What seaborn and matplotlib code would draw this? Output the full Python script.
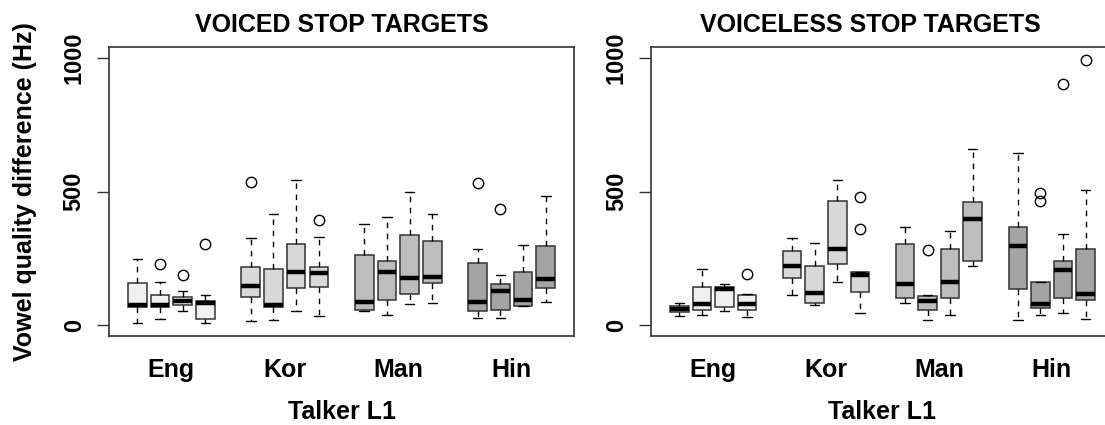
import matplotlib
matplotlib.use("Agg")
import matplotlib.pyplot as plt
import seaborn as sns

sns.set_style("white")
plt.rcParams['font.family'] = ['Liberation Sans', 'DejaVu Sans']
plt.rcParams['font.weight'] = 'bold'
plt.rcParams['text.color'] = 'black'
plt.rcParams['axes.labelcolor'] = 'black'
plt.rcParams['xtick.color'] = 'black'
plt.rcParams['ytick.color'] = 'black'

# Talker L1 groups, four talkers (boxes) each
groups = ['Eng', 'Kor', 'Man', 'Hin']
fills = ['#efefef', '#d8d8d8', '#bdbdbd', '#a4a4a4']

# Voiced stop targets (Hz): box stats
voiced_lo = [9, 25, 55, 9, 15, 20, 55, 35, 54, 40, 80, 84, 26, 26, 71, 88]
voiced_q1 = [67, 67, 77, 24, 104, 67, 138, 142, 57, 93, 117, 157, 52, 57, 73, 138]
voiced_med = [76, 76, 92, 85, 148, 76, 198, 194, 88, 198, 178, 182, 88, 129, 96, 173]
voiced_q3 = [158, 113, 104, 90, 218, 211, 302, 218, 261, 242, 336, 316, 233, 153, 198, 296]
voiced_hi = [246, 162, 128, 113, 327, 417, 543, 330, 380, 404, 499, 417, 286, 187, 301, 483]
voiced_out = [[], [228], [188], [302], [535], [], [], [395],
              [], [], [], [], [530], [435], [], []]

# Voiceless stop targets (Hz)
voiceless_lo = [34, 40, 55, 30, 113, 75, 163, 46, 84, 19, 39, 223, 20, 39, 45, 25]
voiceless_q1 = [48, 59, 69, 59, 177, 84, 228, 123, 103, 59, 103, 242, 137, 63, 102, 93]
voiceless_med = [62, 80, 136, 80, 222, 121, 286, 189, 154, 92, 163, 397, 297, 79, 208, 118]
voiceless_q3 = [73, 143, 143, 113, 277, 223, 466, 200, 302, 108, 286, 460, 366, 163, 241, 286]
voiceless_hi = [84, 211, 154, 118, 326, 307, 543, 200, 369, 114, 354, 659, 643, 163, 343, 504]
voiceless_out = [[], [], [], [192], [], [], [], [361, 481],
                 [], [282], [], [], [], [464, 494], [901], [990]]

edge = '#333333'


def draw_panel(ax, lo, q1, med, q3, hi, out, title, title_x=0.5):
    stats = []
    for i in range(len(med)):
        stats.append(dict(whislo=lo[i], q1=q1[i], med=med[i], q3=q3[i],
                          whishi=hi[i], fliers=out[i]))
    pos = [g * 5 + k + 1 for g in range(len(groups)) for k in range(4)]
    bp = ax.bxp(stats, positions=pos, widths=0.82, capwidths=0.42,
                patch_artist=True, showfliers=True,
                boxprops=dict(edgecolor=edge, linewidth=1.1),
                medianprops=dict(color='black', linewidth=3.2, solid_capstyle='butt'),
                whiskerprops=dict(color='black', linewidth=1, linestyle=(0, (4, 4))),
                capprops=dict(color='black', linewidth=1),
                flierprops=dict(marker='o', markerfacecolor='none', markeredgecolor='black',
                                markersize=7.5, markeredgewidth=1))
    for i, patch in enumerate(bp['boxes']):
        patch.set_facecolor(fills[i // 4])

    ax.set_xlim(-0.26, 20.26)
    ax.set_ylim(-40, 1040)
    ax.set_xticks([2.5, 7.5, 12.5, 17.5], groups)
    ax.set_yticks([0, 500, 1000])
    ax.tick_params(axis='x', length=0, pad=16, labelsize=18)
    ax.tick_params(axis='y', length=8.6, width=1, color=edge, pad=8, labelsize=17, left=True)
    plt.setp(ax.get_yticklabels(), rotation=90, va='center')
    for s in ax.spines.values():
        s.set_color(edge)
        s.set_linewidth(1.2)
    ax.set_title(title, fontsize=18, fontweight='bold', pad=11, x=title_x)
    ax.set_xlabel('Talker L1', fontsize=18, fontweight='bold')
    ax.xaxis.set_label_coords(0.5, -0.222)


fig = plt.figure(figsize=(11.05, 4.25), dpi=100)
ax1 = fig.add_axes([0.0984, 0.2094, 0.4214, 0.68])
ax2 = fig.add_axes([0.589, 0.2094, 0.4192, 0.68])

draw_panel(ax1, voiced_lo, voiced_q1, voiced_med, voiced_q3, voiced_hi, voiced_out,
           'VOICED STOP TARGETS')
draw_panel(ax2, voiceless_lo, voiceless_q1, voiceless_med, voiceless_q3, voiceless_hi,
           voiceless_out, 'VOICELESS STOP TARGETS', title_x=0.475)

ax1.set_ylabel('Vowel quality difference (Hz)', fontsize=18, fontweight='bold')
ax1.yaxis.set_label_coords(-0.154, 0.5)

fig.savefig('out.png', dpi=100)
